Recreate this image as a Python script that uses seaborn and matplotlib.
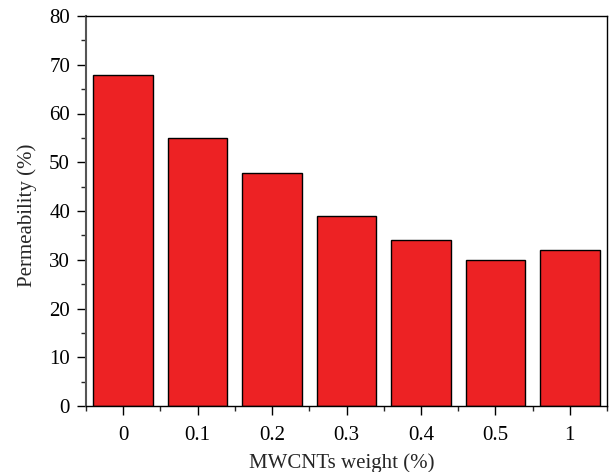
import matplotlib
matplotlib.use("Agg")
import matplotlib.pyplot as plt
import seaborn as sns
import pandas as pd
from matplotlib.ticker import MultipleLocator, FixedLocator

categories = ["0", "0.1", "0.2", "0.3", "0.4", "0.5", "1"]
permeability = [68, 55, 47.8, 39, 34, 30, 32]

df = pd.DataFrame({"weight": categories, "perm": permeability})

sns.set_style("ticks")
plt.rcParams["font.family"] = ["Liberation Serif", "DejaVu Serif"]

fig = plt.figure(figsize=(6.11, 4.72), dpi=100)
ax = fig.add_axes([86/611, 1 - 406/472, (607-86)/611, (406-16)/472])

sns.barplot(data=df, x="weight", y="perm", color="#ED2224", saturation=1,
            edgecolor="black", linewidth=1.0, width=0.8, ax=ax)

ax.set_xlim(-0.5, 6.5)
ax.set_ylim(0, 80)
ax.yaxis.set_major_locator(MultipleLocator(10))
ax.yaxis.set_minor_locator(MultipleLocator(5))
ax.xaxis.set_minor_locator(FixedLocator([i + 0.5 for i in range(-1, 7)]))

for s in ax.spines.values():
    s.set_visible(True)
    s.set_color("black")
    s.set_linewidth(1.0)
ax.spines["left"].set_color("#555555")
ax.spines["left"].set_linewidth(1.5)

ax.tick_params(axis="both", which="major", direction="out", length=6.5, width=1,
               labelsize=15, colors="black", pad=5)
ax.tick_params(axis="both", which="minor", direction="out", length=3.5, width=1)
ax.tick_params(axis="x", which="major", pad=8)

ax.set_xlabel("MWCNTs weight (%)", fontsize=15)
ax.set_ylabel("Permeability (%)", fontsize=15)
ax.xaxis.set_label_coords(0.491, -0.122)
ax.yaxis.set_label_coords(-0.094, 0.49)

fig.savefig("out.png", dpi=100)
